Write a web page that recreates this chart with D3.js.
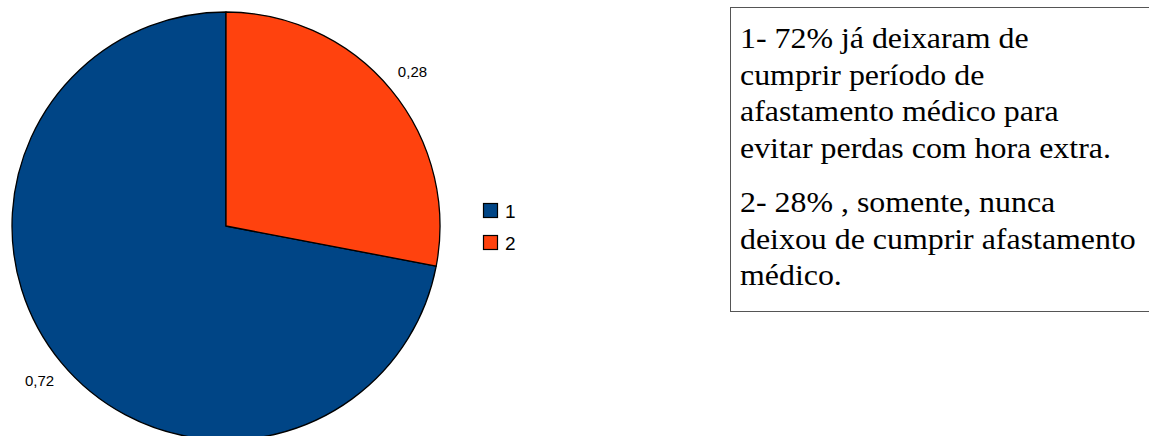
<!DOCTYPE html>
<html>
<head>
<meta charset="utf-8">
<script src="https://cdn.jsdelivr.net/npm/d3@7"></script>
<style>
  html, body { margin: 0; padding: 0; background: #fff; }
  svg { display: block; }
</style>
</head>
<body>
<svg id="chart" width="1149" height="436"></svg>
<script>
const categories = ["1", "2"];
const values = [0.72, 0.28];
const valueLabels = ["0,72", "0,28"];
const colors = ["#004586", "#ff420e"];
const noteParagraphs = [
  ["1- 72% já deixaram de", "cumprir período de", "afastamento médico para", "evitar perdas com hora extra."],
  ["2- 28% , somente, nunca", "deixou de cumprir afastamento", "médico."]
];

const SANS = '"Liberation Sans"';
const SERIF = '"Liberation Serif"';

const svg = d3.select("#chart");
const cx = 226, cy = 226, r = 214;
const total = d3.sum(values);
const start = -values[0] / total * 2 * Math.PI;

const pie = d3.pie().sort(null).value(d => d)
  .startAngle(start).endAngle(start + 2 * Math.PI);
const arcs = pie(values);
const arc = d3.arc().innerRadius(0).outerRadius(r);
const labelArc = d3.arc().innerRadius(242).outerRadius(242);

const g = svg.append("g").attr("transform", `translate(${cx},${cy})`);
g.selectAll("path").data(arcs).join("path")
  .attr("d", arc)
  .attr("fill", (d, i) => colors[i])
  .attr("stroke", "#000")
  .attr("stroke-width", 1.3)
  .attr("stroke-linejoin", "round");

g.selectAll("text.val").data(arcs).join("text")
  .attr("class", "val")
  .attr("transform", d => `translate(${labelArc.centroid(d)})`)
  .attr("text-anchor", "middle")
  .attr("dominant-baseline", "central")
  .style("font-family", SANS)
  .style("font-size", "15px")
  .attr("fill", "#000")
  .text((d, i) => valueLabels[i]);

// legend
const legend = svg.append("g").attr("transform", "translate(483,203)");
const items = legend.selectAll("g").data(categories).join("g")
  .attr("transform", (d, i) => `translate(0,${i * 32})`);
items.append("rect")
  .attr("x", 0.5).attr("y", 0.5)
  .attr("width", 14).attr("height", 14)
  .attr("fill", (d, i) => colors[i])
  .attr("stroke", "#000").attr("stroke-width", 1.2);
items.append("text")
  .attr("x", 22).attr("y", 8)
  .attr("dominant-baseline", "central")
  .style("font-family", SANS)
  .style("font-size", "19px")
  .attr("fill", "#000")
  .text(d => d);

// note box
svg.append("rect")
  .attr("x", 730.5).attr("y", 7.5)
  .attr("width", 440).attr("height", 304)
  .attr("fill", "#fff")
  .attr("stroke", "#555").attr("stroke-width", 1);

const note = svg.append("g").attr("transform", "translate(740,0) scale(1.1,1)");
const paraStarts = [48, 212];
const lineGap = 36.7;
noteParagraphs.forEach((lines, p) => {
  note.selectAll(null).data(lines).join("text")
    .attr("x", 0)
    .attr("y", (d, i) => paraStarts[p] + i * lineGap)
    .style("font-family", SERIF)
    .style("font-size", "29px")
    .attr("fill", "#000")
    .text(d => d);
});
</script>
</body>
</html>
